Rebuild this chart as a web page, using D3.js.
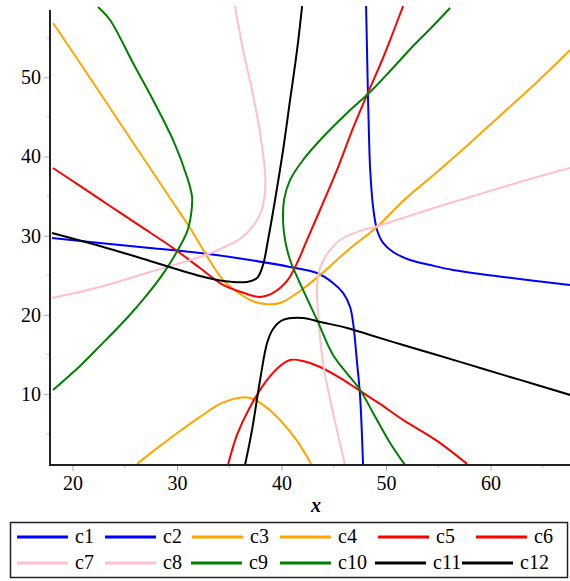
<!DOCTYPE html>
<html>
<head>
<meta charset="utf-8">
<script src="https://cdn.jsdelivr.net/npm/d3@7"></script>
<style>
  body { margin: 0; background: #fff; }
  svg { display: block; }
  svg text { font-family: "Liberation Serif", "Times New Roman", Times, "DejaVu Serif", serif; }
</style>
</head>
<body>
<div id="chart"></div>
<script>
// curve points, [x, y]
var c1 = [[18.04,29.71],[22.63,29.08],[27.42,28.45],[32.2,27.82],[36.99,26.93],[40.82,26.05],[43.4,25.29],
  [44.93,24.03],[45.89,22.77],[46.56,21.0],[46.85,18.98],[47.23,13.93],[47.52,9.64],[47.8,1.05]];
var c2 = [[48.09,59.0],[48.18,53.45],[48.28,47.14],[48.38,42.09],[48.47,38.68],[48.76,33.63],[49.14,30.72],
  [49.72,29.08],[50.67,27.94],[52.3,26.93],[54.21,26.3],[56.41,25.67],[61.2,24.79],[67.6,23.78]];
var c3 = [[18.14,56.86],[20.72,51.81],[23.59,46.13],[26.46,40.44],[29.33,34.76],[31.25,30.97],[32.68,27.82],
  [34.41,24.41],[36.03,22.64],[37.47,21.63],[38.42,21.38],[39.86,21.5],[41.77,23.02],[43.69,25.04],
  [46.27,28.07],[49.24,31.23],[51.63,34.38],[54.88,38.05],[58.04,41.71],[61.2,45.5],[64.45,49.41],[67.61,53.45]];
var c4 = [[26.18,1.18],[28.38,3.45],[30.29,5.34],[32.2,7.11],[34.12,8.75],[35.84,9.51],[36.99,9.51],
  [38.23,8.63],[39.86,6.73],[41.49,4.08],[42.83,1.18]];
var c5 = [[18.14,38.55],[20.72,36.28],[23.59,33.75],[26.46,31.23],[29.62,28.45],[32.2,25.92],[34.41,23.78],
  [36.7,22.64],[37.95,22.26],[39.19,22.77],[40.53,24.28],[41.49,26.56],[42.44,29.46],[43.97,34.13],
  [45.31,38.3],[46.85,43.6],[48.18,47.77],[49.43,51.56],[50.39,54.71],[51.63,59.0]];
var c6 = [[34.88,1.04],[35.74,4.84],[36.99,8.37],[38.62,11.78],[39.86,13.55],[40.82,14.31],[42.06,14.18],
  [43.69,13.42],[45.6,12.04],[47.52,10.39],[49.43,8.75],[51.63,6.73],[54.88,4.08],[57.75,1.18]];
var c7 = [[18.04,22.14],[22.63,23.53],[27.42,25.42],[32.2,27.31],[34.12,28.32],[36.03,29.59],[37.28,31.23],
  [38.04,32.99],[38.42,35.52],[38.42,37.92],[37.95,42.97],[37.18,48.4],[36.32,53.45],[35.55,59.0]];
var c8 = [[67.61,38.55],[64.45,37.41],[61.2,36.15],[58.04,34.89],[54.88,33.63],[51.63,32.24],[49.24,31.23],
  [47.52,30.6],[45.6,29.46],[44.36,27.69],[43.69,25.92],[43.4,23.78],[43.5,20.24],[43.97,13.93],
  [44.93,7.62],[46.08,1.05]];
var c9 = [[22.44,58.88],[23.59,57.24],[25.79,51.81],[27.71,47.14],[29.62,42.09],[30.96,37.41],[31.44,34.89],
  [31.34,32.62],[30.96,30.47],[29.81,27.57],[28.66,25.17],[27.13,22.52],[25.22,19.61],[22.63,16.08],
  [20.72,13.55],[18.14,10.52]];
var c10 = [[56.13,58.75],[54.21,56.1],[52.59,53.95],[50.39,50.8],[48.47,48.15],[46.27,45.49],[43.97,42.46],
  [42.06,39.56],[40.82,37.04],[40.24,34.51],[40.15,31.73],[40.34,29.46],[40.82,26.93],[42.06,23.15],
  [43.4,19.36],[44.93,14.94],[47.52,10.52],[48.76,7.62],[50.39,3.83],[51.82,1.05]];
var c11 = [[18.04,30.34],[22.63,28.7],[27.42,26.81],[32.2,24.91],[34.41,24.28],[36.7,24.16],[37.66,24.66],
  [38.23,26.3],[38.71,29.46],[39.38,34.51],[40.15,40.82],[40.82,47.14],[41.49,53.45],[41.97,59.0]];
var c12 = [[36.51,1.04],[37.18,5.47],[37.95,11.78],[38.62,16.45],[39.19,18.22],[40.15,19.36],[42.06,19.61],
  [43.69,19.11],[46.27,18.35],[48.47,17.46],[51.63,16.2],[54.88,14.94],[58.04,13.68],[61.2,12.42],
  [64.45,11.15],[67.61,9.89]];

var names = ["c1","c2","c3","c4","c5","c6","c7","c8","c9","c10","c11","c12"];
var curves = [c1,c2,c3,c4,c5,c6,c7,c8,c9,c10,c11,c12];
var colors = ["#0000ff","#0000ff","#ffa500","#ffa500","#ff0000","#ff0000",
              "#ffc0cb","#ffc0cb","#008000","#008000","#000000","#000000"];
var xTicks = [20, 30, 40, 50, 60];
var yTicks = [10, 20, 30, 40, 50];

var W = 570, H = 581;
var serif = "'Liberation Serif', 'Times New Roman', Times, 'DejaVu Serif', serif";
var svg = d3.select("#chart").append("svg")
    .attr("width", W)
    .attr("height", H)
    .attr("font-family", serif);

var x = d3.scaleLinear().domain([17.85, 67.6]).range([50, 570]);
var y = d3.scaleLinear().domain([1.04, 58.5]).range([465, 10]);

svg.append("clipPath")
    .attr("id", "plotclip")
  .append("rect")
    .attr("x", 50).attr("y", 4)
    .attr("width", 520).attr("height", 461);

var line = d3.line()
    .x(function(d) { return x(d[0]); })
    .y(function(d) { return y(d[1]); })
    .curve(d3.curveCatmullRom.alpha(0.5));

var plot = svg.append("g").attr("clip-path", "url(#plotclip)");
plot.selectAll("path.curve")
  .data(curves)
  .enter().append("path")
    .attr("class", "curve")
    .attr("fill", "none")
    .attr("stroke", function(d, i) { return colors[i]; })
    .attr("stroke-width", 2)
    .attr("d", line);

// axes (Maple style: grey ticks, dark axis line)
var minorX = d3.range(20, 66, 5).filter(function(v) { return v % 10 != 0; });
var minorY = d3.range(5, 56, 5).filter(function(v) { return v % 10 != 0; });

var xAxis = svg.append("g")
    .attr("transform", "translate(0,465)")
    .call(d3.axisBottom(x).tickValues(xTicks).tickSize(6).tickPadding(5));
var yAxis = svg.append("g")
    .attr("transform", "translate(50,0)")
    .call(d3.axisLeft(y).tickValues(yTicks).tickSize(6).tickPadding(3));

[xAxis, yAxis].forEach(function(g) {
  g.attr("font-family", serif).attr("font-size", 20);
  g.select(".domain").remove();
  g.selectAll(".tick line").attr("stroke", "#aaa");
  g.selectAll("text").attr("fill", "#000");
});

svg.append("g").selectAll("line")
  .data(minorX).enter().append("line")
    .attr("x1", x).attr("x2", x)
    .attr("y1", 465).attr("y2", 468)
    .attr("stroke", "#bbb");
svg.append("g").selectAll("line")
  .data(minorY).enter().append("line")
    .attr("x1", 47).attr("x2", 50)
    .attr("y1", y).attr("y2", y)
    .attr("stroke", "#bbb");

svg.append("line")
    .attr("x1", 50).attr("x2", 50)
    .attr("y1", 10).attr("y2", 466)
    .attr("stroke", "#222").attr("stroke-width", 2);
svg.append("line")
    .attr("x1", 49).attr("x2", 570)
    .attr("y1", 465).attr("y2", 465)
    .attr("stroke", "#222").attr("stroke-width", 2);

svg.append("text")
    .attr("x", 316).attr("y", 512)
    .attr("text-anchor", "middle")
    .attr("font-size", 20)
    .attr("font-style", "italic")
    .attr("font-weight", "bold")
    .text("x");

// legend
svg.append("rect")
    .attr("x", 10.5).attr("y", 522.5)
    .attr("width", 557).attr("height", 55)
    .attr("fill", "none")
    .attr("stroke", "#222")
    .attr("stroke-width", 1.5);

var legX = [[17, 105, 192, 280, 378, 476], [17, 105, 191, 280, 375, 462]];
var legLen = 51;
var legend = svg.append("g");
var items = legend.selectAll("g")
  .data(names)
  .enter().append("g")
    .attr("transform", function(d, i) {
      var row = Math.floor(i / 6), col = i % 6;
      return "translate(" + legX[row][col] + "," + (537 + row * 26) + ")";
    });
items.append("line")
    .attr("x1", 0).attr("x2", legLen)
    .attr("y1", 0).attr("y2", 0)
    .attr("stroke", function(d, i) { return colors[i]; })
    .attr("stroke-width", 3);
items.append("text")
    .attr("x", legLen + 7)
    .attr("y", 6)
    .attr("font-size", 20)
    .text(function(d) { return d; });
</script>
</body>
</html>
